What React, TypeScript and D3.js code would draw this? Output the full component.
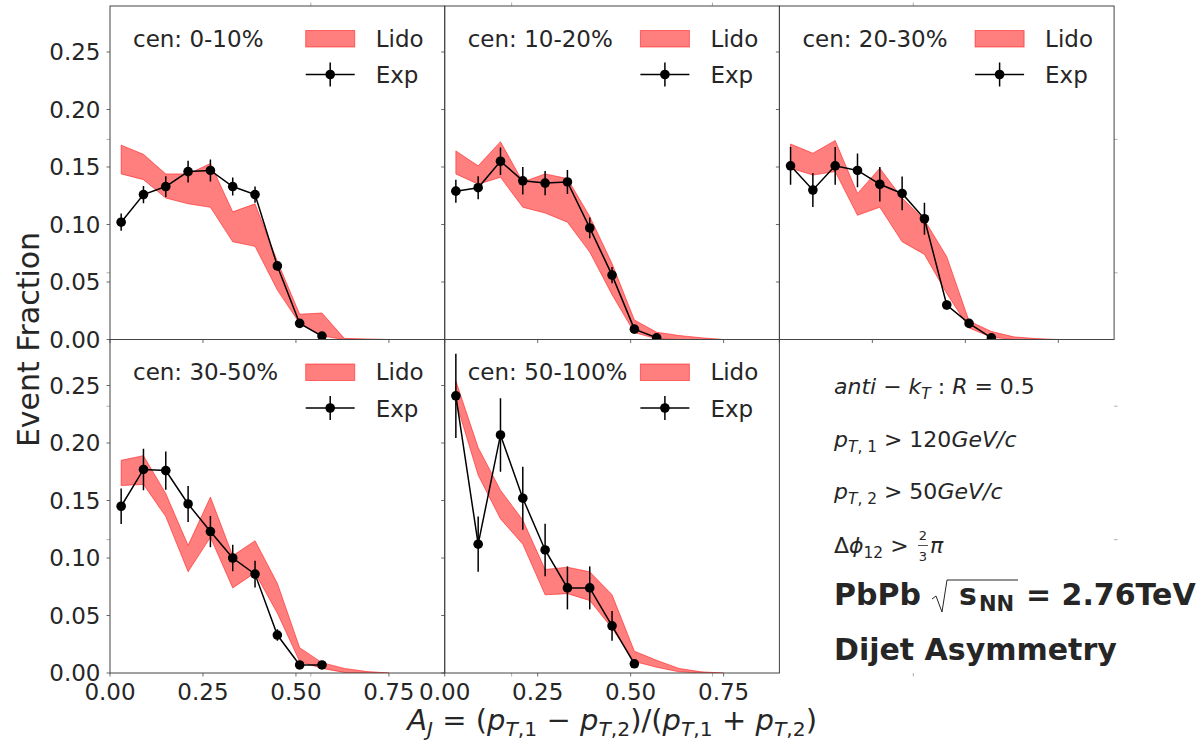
import * as d3 from 'd3';

const INK = '#262626';
const SPINE = '#444';
const FONT = 'DejaVu Sans, sans-serif';

// centrality classes, one per panel
const CEN = ['0-10%', '10-20%', '20-30%', '30-50%', '50-100%'];

// A_J bin centres
const X_EXP = [0.03, 0.09, 0.15, 0.21, 0.27, 0.33, 0.39, 0.45, 0.51, 0.57];
const X_LIDO = [0.03, 0.09, 0.15, 0.21, 0.27, 0.33, 0.39, 0.45, 0.51, 0.57, 0.63, 0.69, 0.75];

// 0-10%
const exp0010 = [0.102, 0.126, 0.133, 0.146, 0.147, 0.133, 0.126, 0.064, 0.014, 0.003];
const err0010 = [0.0075, 0.0075, 0.009, 0.0095, 0.0095, 0.0078, 0.007, 0.004, 0.002, 0.001];
const lidoHi0010 = [0.169, 0.161, 0.144, 0.144, 0.153, 0.111, 0.118, 0.068, 0.022, 0.023, 0.001, 0.0005, 0];
const lidoLo0010 = [0.144, 0.139, 0.123, 0.118, 0.115, 0.085, 0.081, 0.043, 0.014, 0.003, 0, 0, 0];

// 10-20%
const exp1020 = [0.129, 0.132, 0.155, 0.138, 0.136, 0.137, 0.097, 0.056, 0.009, 0.0015];
const err1020 = [0.01, 0.01, 0.012, 0.012, 0.0105, 0.0105, 0.009, 0.007, 0.002, 0.001];
const lidoHi1020 = [0.164, 0.151, 0.172, 0.137, 0.144, 0.14, 0.107, 0.066, 0.017, 0.0063, 0.0035, 0.0015, 0];
const lidoLo1020 = [0.144, 0.135, 0.141, 0.115, 0.11, 0.102, 0.076, 0.039, 0.006, 0.0006, 0, 0, 0];

// 20-30%
const exp2030 = [0.151, 0.13, 0.151, 0.147, 0.135, 0.127, 0.105, 0.03, 0.014, 0.0015];
const err2030 = [0.0165, 0.0147, 0.0165, 0.0147, 0.015, 0.0147, 0.014, 0.004, 0.002, 0.001];
const lidoHi2030 = [0.17, 0.162, 0.173, 0.127, 0.149, 0.123, 0.104, 0.072, 0.016, 0.007, 0.0023, 0.0008, 0];
const lidoLo2030 = [0.149, 0.143, 0.146, 0.108, 0.115, 0.085, 0.074, 0.04, 0.01, 0.002, 0, 0, 0];

// 30-50%
const exp3050 = [0.145, 0.177, 0.176, 0.147, 0.123, 0.1, 0.086, 0.033, 0.007, 0.007];
const err3050 = [0.0155, 0.018, 0.0166, 0.0157, 0.0136, 0.0115, 0.0117, 0.005, 0.0015, 0.0015];
const lidoHi3050 = [0.185, 0.189, 0.156, 0.111, 0.153, 0.102, 0.115, 0.078, 0.022, 0.009, 0.004, 0.0013, 0];
const lidoLo3050 = [0.163, 0.164, 0.136, 0.088, 0.118, 0.074, 0.087, 0.052, 0.01, 0.004, 0.0005, 0, 0];

// 50-100%
const exp50100 = [0.241, 0.112, 0.207, 0.152, 0.107, 0.074, 0.074, 0.041, 0.008];
const err50100 = [0.0366, 0.024, 0.032, 0.0274, 0.0228, 0.0187, 0.0187, 0.013, 0.002];
const lidoHi50100 = [0.254, 0.196, 0.159, 0.133, 0.09, 0.092, 0.088, 0.068, 0.019, 0.011, 0.004, 0.001, 0];
const lidoLo50100 = [0.236, 0.172, 0.134, 0.112, 0.068, 0.069, 0.063, 0.039, 0.01, 0.005, 0.001, 0, 0];

const Y_TICKS = [0, 0.05, 0.1, 0.15, 0.2, 0.25];
const X_TICKS = [0, 0.25, 0.5, 0.75];
const OUTER_TICKS = [0.2, 0.4, 0.6, 0.8];

const PANELS = [
  { cen: CEN[0], exp: exp0010, err: err0010, hi: lidoHi0010, lo: lidoLo0010 },
  { cen: CEN[1], exp: exp1020, err: err1020, hi: lidoHi1020, lo: lidoLo1020 },
  { cen: CEN[2], exp: exp2030, err: err2030, hi: lidoHi2030, lo: lidoLo2030 },
  { cen: CEN[3], exp: exp3050, err: err3050, hi: lidoHi3050, lo: lidoLo3050 },
  { cen: CEN[4], exp: exp50100, err: err50100, hi: lidoHi50100, lo: lidoLo50100 },
];

// grid geometry
const OX = 110;
const OY = 6;
const PW = 334.7;
const PH = 333.5;
const TICK_FS = 23;

const x = d3.scaleLinear().domain([0, 0.9]).range([0, PW]);
const y = d3.scaleLinear().domain([0, 0.29]).range([PH, 0]);
const fmt = d3.format('.2f');

type Seg = { t: string; it?: boolean; sub?: boolean };

function MathText({ x: tx, y: ty, size, segs, anchor = 'start' }: { x: number; y: number; size: number; segs: Seg[]; anchor?: string }) {
  let shift = 0;
  return (
    <text x={tx} y={ty} fontSize={size} textAnchor={anchor} fill={INK} style={{ whiteSpace: 'pre' }}>
      {segs.map((s, i) => {
        const target = s.sub ? size * 0.22 : 0;
        const dy = target - shift;
        shift = target;
        return (
          <tspan key={i} dy={dy} fontStyle={s.it ? 'italic' : 'normal'} fontSize={s.sub ? size * 0.7 : size}>
            {s.t}
          </tspan>
        );
      })}
    </text>
  );
}

function Panel({ idx }: { idx: number }) {
  const p = PANELS[idx];
  const row = Math.floor(idx / 3);
  const col = idx % 3;
  const left = OX + col * PW;
  const top = OY + row * PH;

  const lido = X_LIDO.map((v, i) => ({ x: v, hi: p.hi[i], lo: p.lo[i] }));
  const exp = p.exp.map((v, i) => ({ x: X_EXP[i], y: v, e: p.err[i] }));

  const area = d3.area<{ x: number; hi: number; lo: number }>()
    .x(d => x(d.x)).y0(d => y(d.lo)).y1(d => y(d.hi));
  const line = d3.line<{ x: number; y: number }>().x(d => x(d.x)).y(d => y(d.y));

  const clipId = `clip-${idx}`;
  const showY = col === 0;
  const showX = row === 1;

  return (
    <g transform={`translate(${left},${top})`}>
      <clipPath id={clipId}>
        <rect x={0} y={0} width={PW} height={PH} />
      </clipPath>
      <g clipPath={`url(#${clipId})`}>
        <path d={area(lido) || ''} fill="red" fillOpacity={0.5} stroke="red" strokeOpacity={0.5} strokeWidth={1} />
        <path d={line(exp) || ''} fill="none" stroke="black" strokeWidth={1.5} />
        {exp.map((d, i) => (
          <g key={i}>
            <line x1={x(d.x)} x2={x(d.x)} y1={y(d.y - d.e)} y2={y(d.y + d.e)} stroke="black" strokeWidth={1.5} />
            <circle cx={x(d.x)} cy={y(d.y)} r={4.8} fill="black" />
          </g>
        ))}
      </g>

      {/* legend */}
      <text x={23} y={40.5} fontSize={23} fill={INK}>{`cen: ${p.cen}`}</text>
      <rect x={PW - 139} y={24.5} width={49} height={16.5} fill="red" fillOpacity={0.5} stroke="red" strokeOpacity={0.5} />
      <text x={PW - 69} y={40.5} fontSize={23} fill={INK}>Lido</text>
      <line x1={PW - 139} x2={PW - 90} y1={68.5} y2={68.5} stroke="black" strokeWidth={1.5} />
      <line x1={PW - 114.5} x2={PW - 114.5} y1={56.5} y2={80.5} stroke="black" strokeWidth={1.5} />
      <circle cx={PW - 114.5} cy={68.5} r={4.8} fill="black" />
      <text x={PW - 69} y={77} fontSize={23} fill={INK}>Exp</text>

      {/* ticks */}
      {Y_TICKS.map(t => (
        <g key={`y${t}`}>
          <line x1={-3.5} x2={0} y1={y(t)} y2={y(t)} stroke={SPINE} strokeWidth={0.8} />
          {showY && (
            <text x={-9.5} y={y(t)} dy="0.36em" textAnchor="end" fontSize={TICK_FS} fill={INK}>{fmt(t)}</text>
          )}
        </g>
      ))}
      {X_TICKS.map(t => (
        <g key={`x${t}`}>
          <line x1={x(t)} x2={x(t)} y1={PH} y2={PH + 3.5} stroke={SPINE} strokeWidth={0.8} />
          {showX && (
            <text x={x(t)} y={PH + 27} textAnchor="middle" fontSize={TICK_FS} fill={INK}>{fmt(t)}</text>
          )}
        </g>
      ))}

      <rect x={0} y={0} width={PW} height={PH} fill="none" stroke={SPINE} strokeWidth={1} />
    </g>
  );
}

export default function App() {
  const W = 1198;
  const H = 740;
  const fx = d3.scaleLinear().domain([0, 1]).range([OX, OX + 3 * PW]);
  const fy = d3.scaleLinear().domain([0, 1]).range([OY + 2 * PH, OY]);

  const tx = 834;
  const mathSize = 22;

  return (
    <svg width={W} height={H} style={{ position: 'absolute', left: 0, top: 0, background: 'white' }} fontFamily={FONT}>
      {/* outer frame ticks */}
      <g stroke="#999" strokeWidth={0.8}>
        {OUTER_TICKS.map(t => (
          <g key={t}>
            <line x1={fx(t)} x2={fx(t)} y1={fy(1)} y2={fy(1) - 3.5} />
            <line x1={fx(t)} x2={fx(t)} y1={fy(0)} y2={fy(0) + 3.5} />
            <line x1={fx(0)} x2={fx(0) - 3.5} y1={fy(t)} y2={fy(t)} />
            <line x1={fx(1)} x2={fx(1) + 3.5} y1={fy(t)} y2={fy(t)} />
          </g>
        ))}
      </g>

      {PANELS.map((_, i) => <Panel key={i} idx={i} />)}

      {/* axis titles */}
      <text transform={`translate(39,${fy(0.5)}) rotate(-90)`} textAnchor="middle" fontSize={30} fill={INK}>Event Fraction</text>
      <MathText
        x={fx(0.5)}
        y={730}
        size={29}
        anchor="middle"
        segs={[
          { t: 'A', it: true }, { t: 'J', it: true, sub: true }, { t: ' = (' },
          { t: 'p', it: true }, { t: 'T', it: true, sub: true }, { t: ',1', sub: true }, { t: ' − ' },
          { t: 'p', it: true }, { t: 'T', it: true, sub: true }, { t: ',2', sub: true }, { t: ')/(' },
          { t: 'p', it: true }, { t: 'T', it: true, sub: true }, { t: ',1', sub: true }, { t: ' + ' },
          { t: 'p', it: true }, { t: 'T', it: true, sub: true }, { t: ',2', sub: true }, { t: ')' },
        ]}
      />

      {/* annotation block */}
      <MathText
        x={tx} y={394} size={mathSize}
        segs={[
          { t: 'anti', it: true }, { t: ' − ' }, { t: 'k', it: true }, { t: 'T', it: true, sub: true },
          { t: ' : ' }, { t: 'R', it: true }, { t: ' = 0.5' },
        ]}
      />
      <MathText
        x={tx} y={447} size={mathSize}
        segs={[
          { t: 'p', it: true }, { t: 'T', it: true, sub: true }, { t: ', 1', sub: true },
          { t: ' > 120' }, { t: 'GeV/c', it: true },
        ]}
      />
      <MathText
        x={tx} y={499} size={mathSize}
        segs={[
          { t: 'p', it: true }, { t: 'T', it: true, sub: true }, { t: ', 2', sub: true },
          { t: ' > 50' }, { t: 'GeV/c', it: true },
        ]}
      />
      <MathText
        x={tx} y={553} size={mathSize}
        segs={[{ t: 'Δ' }, { t: 'ϕ', it: true }, { t: '12', sub: true }, { t: ' > ' }]}
      />
      <text x={923} y={540} fontSize={13} textAnchor="middle" fill={INK}>2</text>
      <line x1={918} x2={928} y1={545.5} y2={545.5} stroke={INK} strokeWidth={0.8} />
      <text x={923} y={561} fontSize={13} textAnchor="middle" fill={INK}>3</text>
      <text x={930} y={553} fontSize={mathSize} fontStyle="italic" fill={INK}>π</text>

      <g fill={INK} fontWeight="bold" fontSize={30}>
        <text x={tx} y={605}>PbPb</text>
        <path d="M932,599 L936,596 L942,612 L947,580 L1018,580" fill="none" stroke={INK} strokeWidth={1} />
        <text x={959} y={605}>s</text>
        <text x={979} y={611} fontSize={21}>NN</text>
        <text x={1026} y={605}>= 2.76TeV</text>
        <text x={tx} y={660}>Dijet Asymmetry</text>
      </g>
    </svg>
  );
}
